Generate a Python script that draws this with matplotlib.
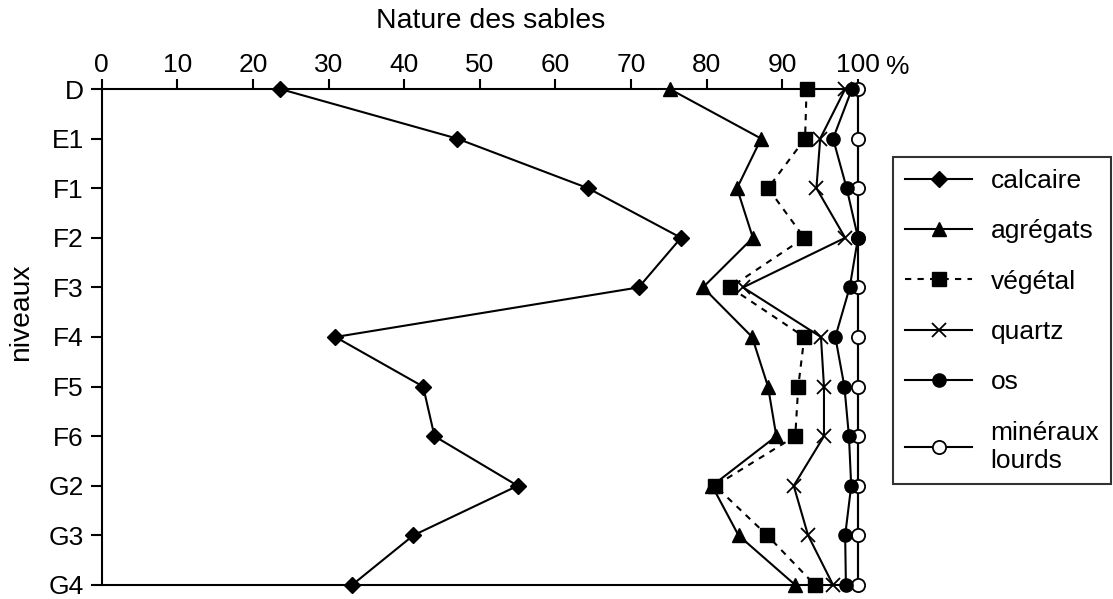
import matplotlib
matplotlib.use('Agg')
import matplotlib.pyplot as plt
import numpy as np

plt.rcParams['font.family'] = ['Liberation Sans', 'DejaVu Sans']
plt.rcParams['font.size'] = 19

# niveaux (de haut en bas)
niveaux = ['D', 'E1', 'F1', 'F2', 'F3', 'F4', 'F5', 'F6', 'G2', 'G3', 'G4']

# pourcentages cumulés
calcaire = [23.6, 47.0, 64.3, 76.6, 71.0, 30.9, 42.5, 44.0, 55.0, 41.2, 33.1]
agregats = [75.1, 87.2, 84.0, 86.1, 79.5, 86.0, 88.1, 89.2, 80.7, 84.2, 91.7]
vegetal = [93.2, 93.0, 88.1, 92.9, 83.1, 92.9, 92.1, 91.7, 81.1, 88.0, 94.3]
quartz = [98.3, 95.0, 94.5, 98.3, 84.8, 95.1, 95.5, 95.5, 91.5, 93.4, 96.7]
os_ = [99.2, 96.7, 98.5, 100.0, 98.9, 97.0, 98.2, 98.8, 99.1, 98.3, 98.4]
mineraux = [100, 100, 100, 100, 100, 100, 100, 100, 100, 100, 100]

y = np.arange(len(niveaux))

fig = plt.figure(figsize=(11.13, 5.99), dpi=100)
ax = fig.add_axes([0.0914, 0.0234, 0.6795, 0.828])

lw = 1.5
kw = dict(color='black', lw=lw, clip_on=False, mec='black')
ax.plot(calcaire, y, marker='D', ms=8.5, mfc='black', label='calcaire', zorder=3, **kw)
ax.plot(agregats, y, marker='^', ms=9.5, mfc='black', label='agrégats', zorder=3, **kw)
ax.plot(vegetal, y, marker='s', ms=9.5, mfc='black', ls=(0, (3, 3)), label='végétal', zorder=3, **kw)
ax.plot(quartz, y, marker='x', ms=9.5, mew=1.3, label='quartz', zorder=3, **kw)
ax.plot(mineraux, y, marker='o', ms=9.5, mfc='white', mew=1.3, label='minéraux\nlourds', zorder=3, **kw)
ax.plot(os_, y, marker='o', ms=9.5, mfc='black', label='os', zorder=4, **kw)

ax.set_xlim(0, 100)
ax.set_ylim(len(niveaux) - 1, 0)
ax.set_xticks(np.arange(0, 101, 10))
ax.set_yticks(y)
ax.set_yticklabels(niveaux)
ax.xaxis.tick_top()
ax.tick_params(axis='x', direction='out', length=7, width=lw, pad=1.5)
ax.tick_params(axis='y', direction='out', length=8, width=lw, pad=5)
for s in ax.spines.values():
    s.set_linewidth(lw)

fig.text(898 / 1113, 1 - 74 / 599, '%', ha='center', va='baseline')
fig.text(491 / 1113, 1 - 21 / 599, 'Nature des sables', ha='center', va='center', fontsize=20.5)
fig.text(21 / 1113, 1 - 312 / 599, 'niveaux', rotation=90, ha='center', va='center', fontsize=20.3)

h, l = ax.get_legend_handles_labels()
order = [0, 1, 2, 3, 5, 4]
leg = fig.legend([h[i] for i in order], [l[i] for i in order],
                 loc='upper left', bbox_to_anchor=(893 / 1113, 1 - 157 / 599),
                 frameon=True, fancybox=False, edgecolor='black',
                 handlelength=2.55, handletextpad=0.7, labelspacing=1.0,
                 borderpad=0.45, borderaxespad=0)
leg.get_frame().set_linewidth(lw)

fig.savefig('out.png', dpi=100)
